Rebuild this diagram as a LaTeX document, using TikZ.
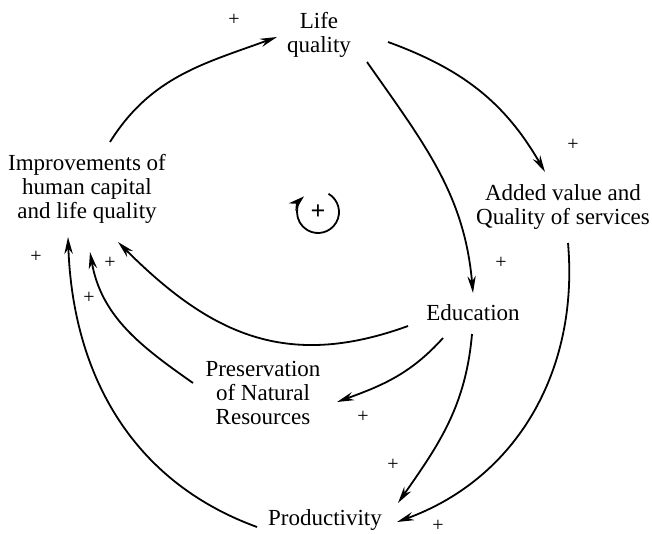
\documentclass[tikz,border=0pt]{standalone}
\usepackage{fontspec}
\setmainfont{Liberation Serif}
\usetikzlibrary{arrows.meta,positioning}
\tikzstyle{var} = [align=center, inner sep=0pt, font=\fontsize{11.5}{12}\selectfont]
\tikzstyle{sign} = [inner sep=0pt, font=\fontsize{10}{10}\selectfont]
\tikzstyle{link} = [line width=0.9pt, -{Stealth[length=8.5pt,width=4.2pt]}]

\begin{document}
\begin{tikzpicture}[x=0.5pt,y=0.5pt]
\useasboundingbox (0,0) rectangle (652,-534);
% variables of the loop
\node[var] (life) at (319,-35) {Life\\quality};
\node[var] (imp) at (87,-189) {Improvements of\\human capital\\and life quality};
\node[var] (added) at (563,-207) {Added value and\\Quality of services};
\node[var] (edu) at (473,-313) {Education};
\node[var] (pres) at (263,-393) {Preservation\\of Natural\\Resources};
\node[var] (prod) at (325,-520) {Productivity};
% reinforcing loop symbol
\node (loopc) at (318,-212) {\fontsize{13}{13}\selectfont\textbf{+}};
\draw[line width=0.9pt, -{Stealth[length=8pt,width=5pt]}] (loopc.center) ++(60:21) arc[start angle=60, end angle=-228, radius=21];
% links
\draw[link] ([shift={(23,47)}]imp.center) to[out=58,in=200] ([shift={(-42,-2)}]life.center);
\draw[link] ([shift={(69,-7)}]life.center) to[out=-20,in=120] ([shift={(-18,35)}]added.center);
\draw[link] ([shift={(48,-27)}]life.center) to[out=-55,in=95] ([shift={(0,20)}]edu.center);
\draw[link] ([shift={(5,-36)}]added.center) to[out=-85,in=20] ([shift={(72,-2)}]prod.center);
\draw[link] ([shift={(-65,-13)}]edu.center) to[out=200,in=-45,looseness=1.1] ([shift={(31,-53)}]imp.center);
\draw[link] ([shift={(-30,-25)}]edu.center) to[out=228,in=20] ([shift={(74,-9)}]pres.center);
\draw[link] ([shift={(-1,-21)}]edu.center) to[out=-95,in=55] ([shift={(73,17)}]prod.center);
\draw[link] ([shift={(-70,10)}]pres.center) to[out=145,in=-80] ([shift={(3,-63)}]imp.center);
\draw[link] ([shift={(-68,-7)}]prod.center) to[out=160,in=-88] ([shift={(-19,-48)}]imp.center);
% polarities
\node[sign] (p1) at (234,-20) {+};
\node[sign] (p2) at (573,-145) {+};
\node[sign] (p3) at (501,-263) {+};
\node[sign] (p4) at (36,-257) {+};
\node[sign] (p5) at (110,-263) {+};
\node[sign] (p6) at (89,-298) {+};
\node[sign] (p7) at (363,-417) {+};
\node[sign] (p8) at (393,-465) {+};
\node[sign] (p9) at (438,-526) {+};
\end{tikzpicture}
\end{document}
